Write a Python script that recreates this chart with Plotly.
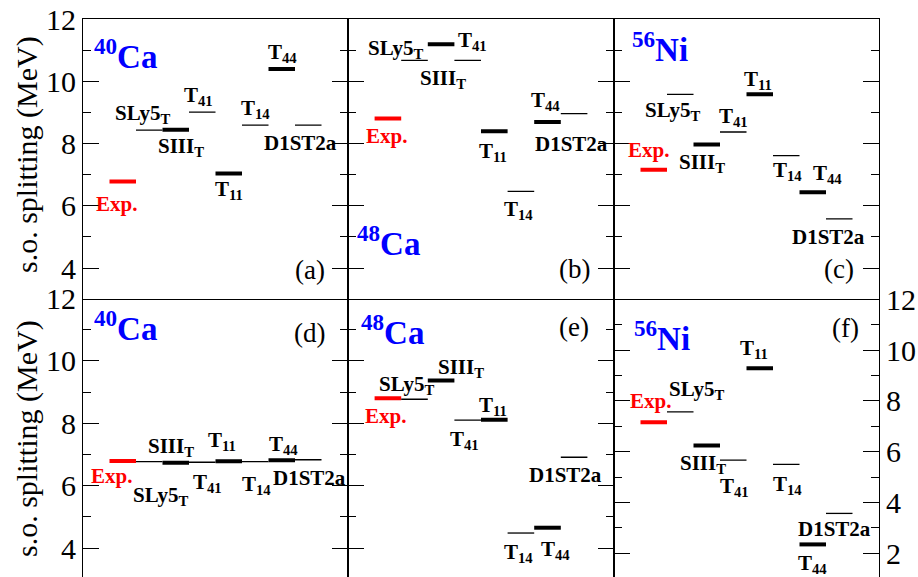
import plotly.graph_objects as go

# ---------------- data ----------------
models = ["Exp.", "SLy5_T", "SIII_T", "T41", "T11", "T14", "T44", "D1ST2a"]
label_texts = ["Exp.", "SLy5<sub>T</sub>", "SIII<sub>T</sub>", "T<sub>41</sub>",
               "T<sub>11</sub>", "T<sub>14</sub>", "T<sub>44</sub>", "D1ST2a"]
slot_x = [1, 2, 3, 4, 5, 6, 7, 8]          # left end of each level segment

ca40_top = [6.78, 8.43, 8.44, 9.01, 7.04, 8.59, 10.39, 8.59]
ca48_top = [8.80, 10.67, 11.19, 10.67, 8.39, 6.46, 8.69, 8.96]
ni56_top = [7.16, 9.58, 7.97, 8.37, 9.58, 7.61, 6.43, 5.58]
ca40_bot = [6.79, 6.77, 6.73, 6.75, 6.78, 6.77, 6.81, 6.83]
ca48_bot = [8.80, 8.77, 9.37, 8.10, 8.11, 4.48, 4.65, 6.91]
ni56_bot = [7.16, 7.57, 6.24, 5.67, 9.28, 5.50, 2.35, 3.57]

panel_values = [ca40_top, ca48_top, ni56_top, ca40_bot, ca48_bot, ni56_bot]
panel_tags = ["(a)", "(b)", "(c)", "(d)", "(e)", "(f)"]
nuclei = [("40", "Ca"), ("48", "Ca"), ("56", "Ni"), ("40", "Ca"), ("48", "Ca"), ("56", "Ni")]

y_tick_vals = [2, 4, 6, 8, 10, 12]

# ---------------- styles / positions ----------------
seg_style = [("red", 4), ("black", 1.3), ("black", 4), ("black", 1.3),
             ("black", 4), ("black", 1.3), ("black", 4), ("black", 1.3)]

# label offsets (pixels, dx right, dy down) from segment centre
label_offsets = [
    [(-6, 23), (-6.5, -16), (5, 17.5), (-4, -16.5), (0, 16.5), (0, -16), (1, -16.5), (-8, 17.5)],
    [(-1, 17), (-19, -11), (2, 35), (5, -19), (-1, 20.5), (-2, 19), (-2, -20.7), (-3, 30)],
    [(-5, -20), (-7, 17), (-5, 19), (0, -15), (-2, -14), (1, 15), (15, -18), (-11, 18)],
    [(-11, 15.5), (12, 34), (-5, -15.5), (5, 21), (-7, -20), (1, 23), (2, -15), (1, 18)],
    [(-2, 18), (-8, -14), (20, -13), (-3, 20), (-1, -13.5), (-2, 19.5), (8, 22), (-9, 18)],
    [(-3, -21), (17, -22), (-4, 18), (1, 27), (-6, -19), (1, 21), (0, 20), (-5, 16)],
]

W, H = 918, 577
ML, MR, MT, MB = 83, 39, 19, 0
panel_px_x = [(83, 348), (348, 614), (614, 879)]
row_px_y = [(19, 298.5), (298.5, 577)]
plot_w = W - ML - MR
plot_h = H - MT - MB

def xdom(c):
    a, b = panel_px_x[c]
    return [(a - ML) / plot_w, (b - ML) / plot_w]

def ydom(r):
    t, b = row_px_y[r]
    return [(H - MB - b) / plot_h, (H - MB - t) / plot_h]

def to_dom(p, px, py):
    r, c = divmod(p, 3)
    x0, x1 = panel_px_x[c]
    t, b = row_px_y[r]
    return (px - x0) / (x1 - x0), (b - py) / (b - t)

y_ranges = [[3.02, 12], [3.02, 12], [3.02, 12], [3.07, 12], [3.07, 12], [1.067, 12.03]]

nuc_px = [(125, 54), (388.5, 241), (659.5, 47), (125, 326.5), (392.5, 330), (661.5, 336.5)]
tag_px = [(309.5, 270), (574, 269), (839, 269.5), (309, 333), (573.5, 327), (845.5, 328)]

SERIF = "Liberation Serif"

fig = go.Figure()

for p in range(6):
    sfx = "" if p == 0 else str(p + 1)
    xref, yref = "x" + sfx, "y" + sfx
    vals = panel_values[p]
    for i, v in enumerate(vals):
        col, lw = seg_style[i]
        fig.add_trace(go.Scatter(x=[slot_x[i], slot_x[i] + 1], y=[v, v], mode="lines",
                                 line=dict(color=col, width=lw), xaxis=xref, yaxis=yref,
                                 showlegend=False, hoverinfo="skip"))
        dx, dy = label_offsets[p][i]
        fig.add_annotation(x=slot_x[i] + 0.5, y=v, xref=xref, yref=yref,
                           text=label_texts[i], showarrow=False,
                           xanchor="center", yanchor="middle", xshift=dx, yshift=-dy,
                           font=dict(family=SERIF, size=21, weight="bold",
                                     color="red" if i == 0 else "black"))
    # nucleus label
    nx, ny = to_dom(p, *nuc_px[p])
    a, el = nuclei[p]
    fig.add_annotation(x=nx, y=ny, xref=xref + " domain", yref=yref + " domain",
                       text="<sup>" + a + "</sup>" + el, showarrow=False,
                       xanchor="center", yanchor="middle",
                       font=dict(family=SERIF, size=33, weight="bold", color="#0000ff"))
    tx, ty = to_dom(p, *tag_px[p])
    fig.add_annotation(x=tx, y=ty, xref=xref + " domain", yref=yref + " domain",
                       text=panel_tags[p], showarrow=False,
                       xanchor="center", yanchor="middle",
                       font=dict(family=SERIF, size=27, color="black"))

    r, c = divmod(p, 3)
    fig.layout["xaxis" + sfx] = dict(domain=xdom(c), range=[0, 10], anchor=yref,
                                     showticklabels=False, ticks="", showgrid=False,
                                     zeroline=False, showline=(r == 0), mirror=True,
                                     linecolor="black", linewidth=1.2, fixedrange=True)
    show_lbl = p in (0, 3, 5)
    fig.layout["yaxis" + sfx] = dict(domain=ydom(r), range=y_ranges[p], anchor=xref,
                                     side="right" if p == 5 else "left",
                                     tickvals=y_tick_vals, ticktext=[str(t) for t in y_tick_vals],
                                     showticklabels=show_lbl,
                                     ticks="inside", ticklen=16, tickwidth=1.3, tickcolor="black",
                                     minor=dict(ticks="inside", ticklen=8, tickwidth=1.3,
                                                tickcolor="black", dtick=1, tick0=0,
                                                showgrid=False),
                                     showgrid=False, zeroline=False, showline=True,
                                     mirror="ticks", linecolor="black", linewidth=1.2,
                                     tickfont=dict(family=SERIF, size=30, color="black"),
                                     fixedrange=True)

for yc in (155, 439):
    fig.add_annotation(x=(27 - ML) / plot_w, y=(H - MB - yc) / plot_h, xref="paper", yref="paper",
                       text="s.o. splitting (MeV)", textangle=-90, showarrow=False,
                       xanchor="center", yanchor="middle",
                       font=dict(family=SERIF, size=30, color="black"))

fig.update_layout(width=W, height=H, margin=dict(l=ML, r=MR, t=MT, b=MB, pad=0),
                  paper_bgcolor="white", plot_bgcolor="white", showlegend=False)

fig.write_html("out.html", config={"displayModeBar": False},
               post_script="document.body.style.margin='0';document.body.style.overflow='hidden';")
